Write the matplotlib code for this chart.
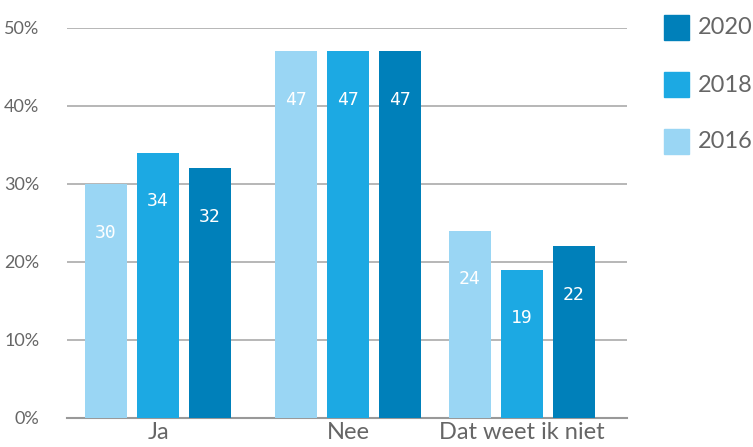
import matplotlib
matplotlib.use("Agg")
import matplotlib.pyplot as plt
from matplotlib.patches import Rectangle

categories = ["Ja", "Nee", "Dat weet ik niet"]
years = ["2016", "2018", "2020"]
values = {
    "2016": [30, 47, 24],
    "2018": [34, 47, 19],
    "2020": [32, 47, 22],
}
colors = {"2016": "#9AD6F4", "2018": "#1CA9E3", "2020": "#0080BA"}
yticks = [0, 10, 20, 30, 40, 50]

plt.rcParams['font.family'] = ['Lato', 'DejaVu Sans']

W, H = 753, 447
fig = plt.figure(figsize=(W / 100, H / 100), dpi=100)
ax_l, ax_r, ax_b, ax_t = 67, 627, 418, 28
ax = fig.add_axes([ax_l / W, 1 - ax_b / H, (ax_r - ax_l) / W, (ax_b - ax_t) / H])

# layout in pixel-like x units
centers = [158, 348, 522]
offsets = [-52, 0, 52]
width = 42

ax.set_xlim(ax_l, ax_r)
ax.set_ylim(0, 50)

for k, yr in enumerate(years):
    xs = [c + offsets[k] for c in centers]
    bars = ax.bar(xs, values[yr], width=width, color=colors[yr], zorder=3)
    for b, v in zip(bars, values[yr]):
        ax.annotate(str(v), (b.get_x() + b.get_width() / 2, v),
                    xytext=(0, -35), textcoords="offset points",
                    ha="center", va="center", color="white",
                    fontsize=13, family="DejaVu Sans Mono", zorder=4)

ax.set_yticks(yticks)
ax.set_yticklabels([f"{t}%" for t in yticks], fontsize=13, color="#666666")
ax.yaxis.grid(True, color="#AAAAAA", linewidth=1.2, zorder=0)
ax.set_xticks(centers)
ax.set_xticklabels(categories, fontsize=17, color="#666666")
ax.tick_params(axis="both", length=0)
ax.tick_params(axis="y", pad=20)
ax.tick_params(axis="x", pad=3)
for s in ["top", "right", "left"]:
    ax.spines[s].set_visible(False)
ax.spines["bottom"].set_color("#999999")
ax.spines["bottom"].set_linewidth(1.5)

# legend (manual)
for i, yr in enumerate(reversed(years)):
    ytop = 15 + i * 57
    fig.add_artist(Rectangle((664 / W, 1 - (ytop + 25) / H), 25 / W, 25 / H,
                             transform=fig.transFigure, color=colors[yr]))
    fig.text(698 / W, 1 - (ytop + 13) / H, yr, fontsize=17, color="#666666",
             va="center", ha="left")

fig.savefig("out.png", dpi=100)
